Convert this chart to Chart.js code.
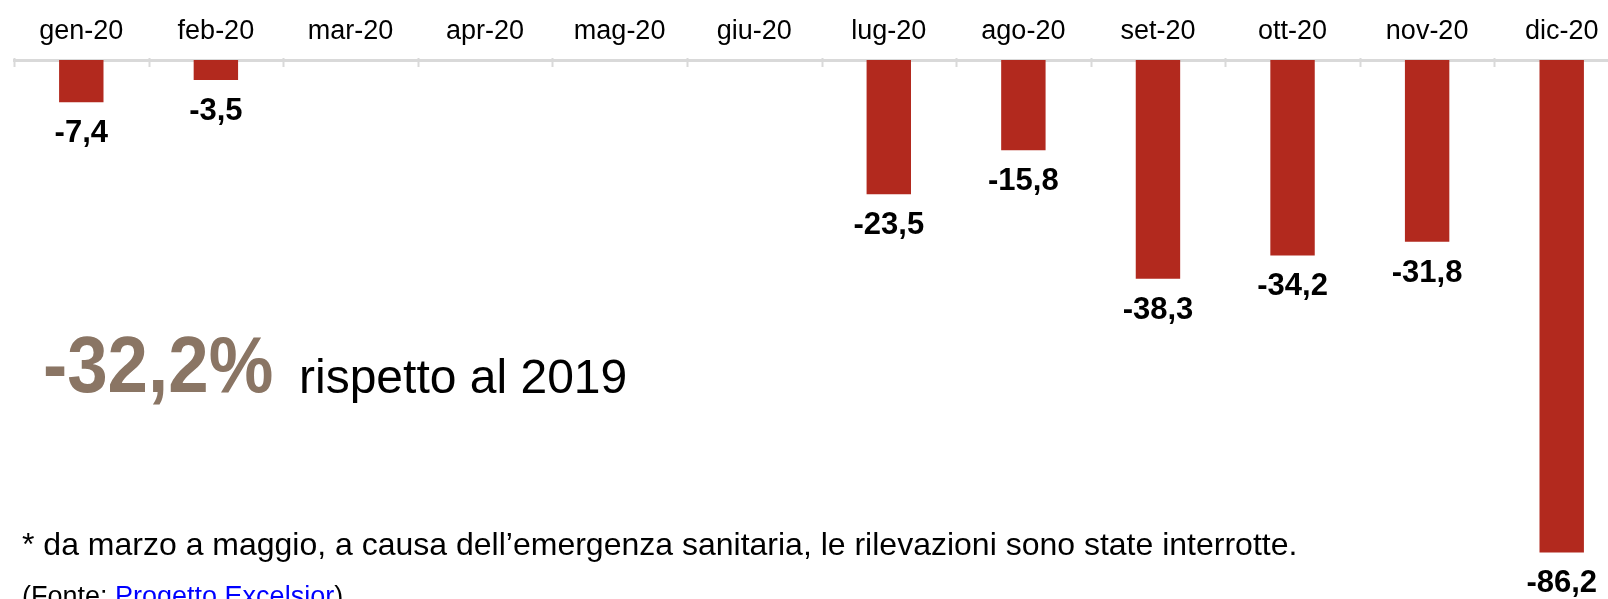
<!DOCTYPE html>
<html lang="it">
<head>
<meta charset="utf-8">
<script src="https://cdn.jsdelivr.net/npm/chart.js@4.4.1/dist/chart.umd.min.js"></script>
<style>
  html, body { margin: 0; padding: 0; background: #fff; overflow: hidden; }
  #wrap { position: relative; width: 1630px; height: 599px; }
</style>
</head>
<body>
<div id="wrap"><canvas id="chartVariazione"></canvas></div>
<script>
// dati (variazione % rispetto al 2019; mar-giu non rilevati)
const mesi = ['gen-20', 'feb-20', 'mar-20', 'apr-20', 'mag-20', 'giu-20',
              'lug-20', 'ago-20', 'set-20', 'ott-20', 'nov-20', 'dic-20'];
const variazioni = [-7.4, -3.5, null, null, null, null, -23.5, -15.8, -38.3, -34.2, -31.8, -86.2];
const totaleAnno = '-32,2%';
const totaleTesto = 'rispetto al 2019';
const nota = '* da marzo a maggio, a causa dell\u2019emergenza sanitaria, le rilevazioni sono state interrotte.';
const fontePre = '(Fonte: ';
const fonteLink = 'Progetto Excelsior';
const fontePost = ')';

const FONT = "'Liberation Sans', Arial, sans-serif";
const ROSSO = '#B2291E';

function fmt(v) {
    return v.toFixed(1).replace('.', ',');
}

// tacche sotto la linea dell'asse
const tacchePlugin = {
    id: 'tacche',
    afterDatasetsDraw(chart) {
        const ctx = chart.ctx;
        const x = chart.scales.x;
        const n = mesi.length;
        const top = chart.chartArea.top;
        ctx.save();
        ctx.strokeStyle = '#d9d9d9';
        ctx.lineWidth = 2;
        for (let i = 0; i <= n; i++) {
            const px = Math.round(x.left + i * (x.width / n)) + 0.5;
            ctx.beginPath();
            ctx.moveTo(px, top - 2);
            ctx.lineTo(px, top + 7);
            ctx.stroke();
        }
        ctx.restore();
    }
};

// etichette valori sotto le barre
const etichettePlugin = {
    id: 'etichette',
    afterDatasetsDraw(chart) {
        const ctx = chart.ctx;
        const meta = chart.getDatasetMeta(0);
        ctx.save();
        ctx.font = 'bold 31px ' + FONT;
        ctx.fillStyle = '#000';
        ctx.textAlign = 'center';
        ctx.textBaseline = 'alphabetic';
        meta.data.forEach(function(bar, i) {
            const v = variazioni[i];
            if (v === null) return;
            ctx.fillText(fmt(v), bar.x, bar.y + 40);
        });
        ctx.restore();
    }
};

// testo riassuntivo e note
const testiPlugin = {
    id: 'testi',
    afterDraw(chart) {
        const ctx = chart.ctx;
        ctx.save();
        ctx.textBaseline = 'alphabetic';
        ctx.textAlign = 'left';

        ctx.save();
        ctx.translate(43, 392);
        ctx.scale(0.92, 1);
        ctx.font = 'bold 79px ' + FONT;
        ctx.fillStyle = '#8A7564';
        ctx.fillText(totaleAnno, 0, 0);
        ctx.restore();

        ctx.font = '48px ' + FONT;
        ctx.fillStyle = '#000';
        ctx.fillText(totaleTesto, 299, 393);

        ctx.font = '32px ' + FONT;
        ctx.fillText(nota, 22, 555);

        ctx.font = '27px ' + FONT;
        let x = 22;
        const yb = 605;
        ctx.fillText(fontePre, x, yb);
        x += ctx.measureText(fontePre).width;
        ctx.fillStyle = '#0000FF';
        ctx.fillText(fonteLink, x, yb);
        const wl = ctx.measureText(fonteLink).width;
        ctx.fillRect(x, yb + 3, wl, 2);
        x += wl;
        ctx.fillStyle = '#000';
        ctx.fillText(fontePost, x, yb);
        ctx.restore();
    }
};

document.addEventListener('DOMContentLoaded', function() {
    const ctx = document.getElementById('chartVariazione').getContext('2d');
    new Chart(ctx, {
        type: 'bar',
        data: {
            labels: mesi,
            datasets: [{
                data: variazioni,
                backgroundColor: ROSSO,
                borderWidth: 0,
                barPercentage: 0.33,
                categoryPercentage: 1.0
            }]
        },
        options: {
            responsive: true,
            maintainAspectRatio: false,
            animation: false,
            layout: {
                padding: { left: 14, right: 1, top: 2.3, bottom: 2 }
            },
            scales: {
                x: {
                    position: 'top',
                    offset: true,
                    grid: { display: false, drawTicks: false },
                    border: { display: true, color: '#d9d9d9', width: 3 },
                    ticks: {
                        color: '#000',
                        padding: 14,
                        maxRotation: 0,
                        autoSkip: false,
                        font: { family: FONT, size: 27, lineHeight: 1.1 }
                    }
                },
                y: {
                    display: false,
                    min: -94,
                    max: 0
                }
            },
            plugins: {
                legend: { display: false },
                tooltip: { enabled: false }
            }
        },
        plugins: [tacchePlugin, etichettePlugin, testiPlugin]
    });
});
</script>
</body>
</html>
